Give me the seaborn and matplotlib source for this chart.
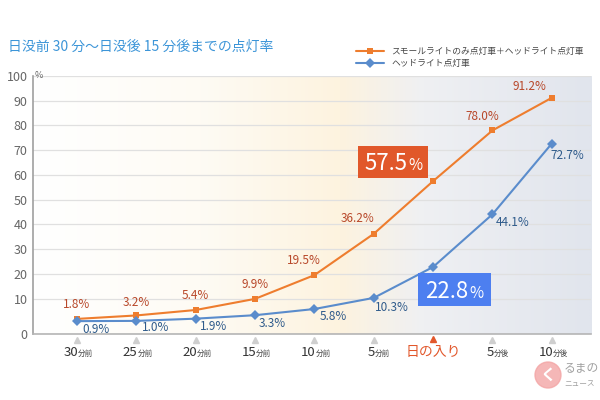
import numpy as np
import pandas as pd
import matplotlib.pyplot as plt
import matplotlib.transforms as mtransforms
from matplotlib.colors import LinearSegmentedColormap
from matplotlib.patches import Rectangle, Ellipse
import seaborn as sns

# data
tick_nums = ['30', '25', '20', '15', '10', '5', '', '5', '10']
tick_units = ['分前', '分前', '分前', '分前', '分前', '分前', '', '分後', '分後']
sunset_label = '日の入り'
series_names = ['スモールライトのみ点灯車＋ヘッドライト点灯車', 'ヘッドライト点灯車']
small_plus_head = [1.8, 3.2, 5.4, 9.9, 19.5, 36.2, 57.5, 78.0, 91.2]
head_only = [0.9, 1.0, 1.9, 3.3, 5.8, 10.3, 22.8, 44.1, 72.7]
y_ticks = [10, 20, 30, 40, 50, 60, 70, 80, 90, 100]

title = '日没前 30 分〜日没後 15 分後までの点灯率'

# label offsets in pixels (dx, dy); None -> drawn as a big box instead
orange_off = [(0, 14), (0, 13), (0, 15), (0, 14), (-10, 15), (-16, 15), None, (-10, 14), (-22, 11)]
blue_off = [(19, -8), (19, -7), (18, -8), (17, -8), (19, -7), (18, -10), None, (20, -8), (16, -12)]

ORANGE = '#ee7d2e'
BLUE = '#5a8ccc'
ORANGE_TXT = '#b8482a'
BLUE_TXT = '#2f5b8b'

sns.set_theme(style='white')
plt.rcParams['font.family'] = ['Noto Sans CJK JP', 'DejaVu Sans']

n = len(small_plus_head)
idx = np.arange(n)
df = pd.DataFrame({
    'idx': np.concatenate([idx, idx]),
    'rate': small_plus_head + head_only,
    'series': [series_names[0]] * n + [series_names[1]] * n,
})

fig = plt.figure(figsize=(6, 4), dpi=100)
ax = fig.add_axes([33 / 600, 66 / 400, 558 / 600, 258 / 400])

x_lo, x_hi = -0.74, 8.66
y_lo, y_hi = -4.3, 100

# background gradient: white -> warm cream -> grey blue
cmap = LinearSegmentedColormap.from_list('bg', [
    (0.0, '#ffffff'), (0.3, '#fefbf4'), (0.55, '#fdf3df'),
    (0.7, '#eff0f3'), (1.0, '#e1e5ed')])
grad = np.linspace(0, 1, 300).reshape(1, -1)
ax.imshow(grad, cmap=cmap, extent=(x_lo, x_hi, y_lo, y_hi), aspect='auto', zorder=0)

sns.lineplot(data=df, x='idx', y='rate', hue='series', style='series',
             hue_order=series_names, style_order=series_names,
             palette=[ORANGE, BLUE], markers=['s', 'D'], dashes=False,
             markersize=5, markeredgewidth=0, linewidth=1.5, ax=ax, zorder=3)

ax.set_xlim(x_lo, x_hi)
ax.set_ylim(y_lo, y_hi)
ax.set_xlabel('')
ax.set_ylabel('')

# y axis: the "0" sits at the bottom of the axis, below the real zero
ax.set_yticks([y_lo] + y_ticks)
ax.set_yticklabels(['0'] + [str(t) for t in y_ticks], color='#666666', fontsize=9)
ax.tick_params(axis='y', length=0, pad=4)
ax.set_xticks([])
ax.set_axisbelow(True)
ax.yaxis.grid(True, color='#e0e0e0', lw=0.9)
for s in ['top', 'right']:
    ax.spines[s].set_visible(False)
ax.spines['left'].set_color('#a0a0a0')
ax.spines['left'].set_linewidth(1.2)
ax.spines['bottom'].set_color('#b5b5b5')
ax.spines['bottom'].set_linewidth(1.2)
ax.text(x_lo + 0.02, 100, '%', fontsize=6.5, color='#666666', va='center', ha='left')

# x labels drawn by hand: big number + small unit
trans = mtransforms.blended_transform_factory(ax.transData, ax.transAxes)
for i in idx:
    if tick_nums[i] == '':
        ax.text(i, -0.068, sunset_label, transform=trans, ha='center', va='center',
                fontsize=10, color='#e2572b', clip_on=False)
        ax.plot(i, -0.018, marker='^', markersize=4, color='#e2572b',
                transform=trans, clip_on=False)
    else:
        ax.text(i + 0.02, -0.085, tick_nums[i], transform=trans, ha='right',
                va='baseline', fontsize=9.5, color='#333333', clip_on=False)
        ax.text(i + 0.02, -0.085, tick_units[i], transform=trans, ha='left',
                va='baseline', fontsize=5.5, color='#444444', clip_on=False)
        ax.plot(i, -0.022, marker='^', markersize=4, color='#cfcfcf',
                transform=trans, clip_on=False)

# value labels
for i in idx:
    if orange_off[i] is not None:
        ax.annotate(f'{small_plus_head[i]:.1f}%', (i, small_plus_head[i]),
                    xytext=orange_off[i], textcoords='offset pixels',
                    ha='center', va='center', fontsize=8.5, color=ORANGE_TXT)
    if blue_off[i] is not None:
        ax.annotate(f'{head_only[i]:.1f}%', (i, head_only[i]),
                    xytext=blue_off[i], textcoords='offset pixels',
                    ha='center', va='center', fontsize=8.5, color=BLUE_TXT)

# highlight boxes at sunset
def value_box(cx, cy, w, h, value, color):
    ax.add_patch(Rectangle((cx - w / 2, cy - h / 2), w, h, color=color, zorder=4, lw=0))
    base = cy - 3.3
    ax.text(cx + 0.24, base, f'{value:.1f}', ha='right', va='baseline',
            fontsize=16, color='white', zorder=5)
    ax.text(cx + 0.25, base, '%', ha='left', va='baseline',
            fontsize=11, color='white', zorder=5)

sun = tick_nums.index('')
value_box(sun - 0.67, small_plus_head[sun] + 7.7, 1.18, 12.9, small_plus_head[sun], '#e1582a')
value_box(sun + 0.36, head_only[sun] - 9.1, 1.23, 13.3, head_only[sun], '#4d7ff0')

# legend and title
ax.legend(loc='upper left', bbox_to_anchor=(352 / 600, 1 - 43 / 400),
          bbox_transform=fig.transFigure, frameon=False, fontsize=6.3,
          handlelength=3.2, labelspacing=0.3, borderpad=0, handletextpad=0.8,
          labelcolor='#444444')
fig.text(8 / 600, 1 - 47 / 400, title, fontsize=10, color='#3c95d8', va='center', ha='left')

# watermark
fig.patches.append(Ellipse((548 / 600, 1 - 375 / 400), 26 / 600, 26 / 400,
                           transform=fig.transFigure, color='#f3a5a5', alpha=0.8))
fig.text(548 / 600, 1 - 375 / 400, 'く', fontsize=11, color='white', weight='bold',
         ha='center', va='center')
fig.text(564 / 600, 1 - 368 / 400, 'るまの', fontsize=8.5, color='#a0a0a0', va='center')
fig.text(564 / 600, 1 - 384 / 400, 'ニュース', fontsize=5.5, color='#a0a0a0', va='center')

fig.savefig('out.png', dpi=100)
